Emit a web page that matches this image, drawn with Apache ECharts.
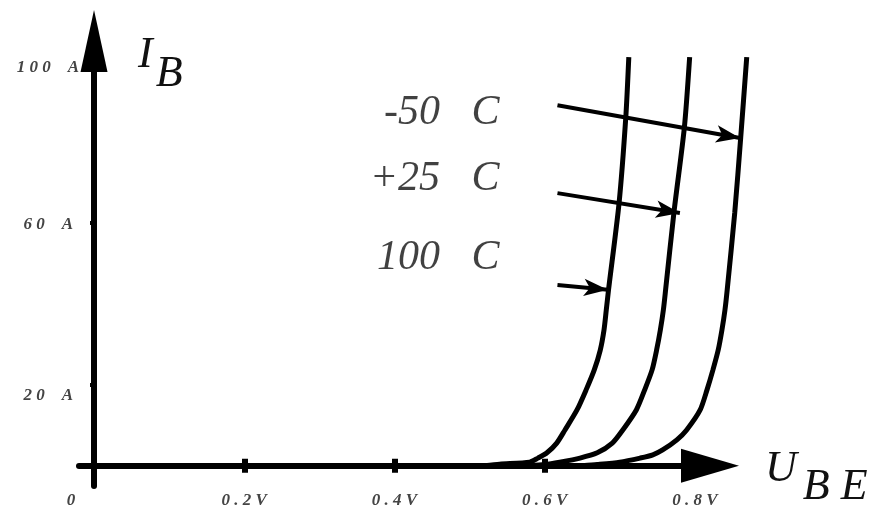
<!DOCTYPE html>
<html><head><meta charset="utf-8">
<script src="https://cdn.jsdelivr.net/npm/echarts@6/dist/echarts.min.js"></script>
<style>html,body{margin:0;padding:0;background:#fff}#c{width:871px;height:507px}</style>
</head><body><div id="c"></div>
<script>
// ---- data ----
const xTickValues = [0, 0.2, 0.4, 0.6, 0.8];
const xTickLabels = ['0', '0 . 2 V', '0 . 4 V', '0 . 6 V', '0 . 8 V'];
const yTickValues = [20, 60, 100];
const yTickLabels = ['2 0    A', '6 0    A', '1 0 0    A'];

// I_B (µA) versus U_BE (V)
const curve100C = [[0.52,0],[0.54,0.4],[0.580,0.9],[0.591,1.9],[0.603,3.2],[0.616,5.6],[0.627,8.85],[0.643,13.8],[0.655,18.7],[0.666,23.7],[0.674,28.6],[0.679,33.6],[0.682,38.5],[0.685,43.5],[0.699,64.9],[0.708,86.2],[0.712,101]];
const curve25C  = [[0.58,0],[0.60,0.3],[0.620,0.9],[0.647,1.9],[0.670,3.2],[0.690,5.6],[0.704,8.85],[0.722,13.8],[0.733,18.7],[0.743,23.7],[0.749,28.6],[0.754,33.6],[0.758,38.5],[0.761,43.5],[0.772,62.5],[0.786,83.7],[0.793,101]];
const curveM50C = [[0.65,0],[0.67,0.3],[0.700,0.9],[0.727,1.9],[0.744,2.7],[0.757,3.9],[0.776,6.4],[0.789,8.85],[0.807,13.8],[0.816,18.7],[0.824,23.7],[0.831,28.6],[0.836,33.6],[0.840,38.5],[0.843,43.5],[0.853,62.5],[0.861,81.2],[0.869,101]];

const tempLabels = ['-50   C', '+25   C', '100   C'];
const tempLabelAnchors = [[0.540, 87.2], [0.540, 70.9], [0.540, 51.4]];
const arrowStarts = [[0.617, 89.1], [0.617, 67.4], [0.617, 44.7]];
const arrowEnds   = [[0.860, 81.0], [0.780, 62.5], [0.684, 43.5]];

const yTitle = ['I', 'B'];
const xTitle = ['U', 'B E'];

// ---- chart ----
const serif = '"Liberation Serif", "DejaVu Serif", serif';
const tickFont = {fontFamily: serif, fontStyle: 'italic', fontWeight: 'bold', fontSize: 17, color: '#444'};
const bigFont = {fontFamily: serif, fontStyle: 'italic', fontSize: 44, color: '#111'};

const chart = echarts.init(document.getElementById('c'), null, {renderer: 'canvas'});
const curveStyle = {color: '#000', width: 5};

// visible axes: x from -0.02 to 0.82 V; hidden plotting frame: same scale, x to 0.88 V
const pxPerVolt = 631 / 0.84;

function curveSeries(name, data) {
  return {
    name, type: 'line', data, xAxisIndex: 2, yAxisIndex: 1,
    symbol: 'none', showSymbol: false, smooth: 0.25, clip: false,
    lineStyle: curveStyle, z: 3
  };
}

chart.setOption({
  animation: false,
  backgroundColor: '#fff',
  grid: [
    {left: 79, top: 41, width: 631, height: 445, outerBoundsMode: 'none', containLabel: false},
    {left: 79, top: 41, width: Math.round(pxPerVolt * 0.90), height: 445, outerBoundsMode: 'none', containLabel: false}
  ],
  xAxis: [{
    gridIndex: 0, type: 'value', min: -0.02, max: 0.82,
    splitLine: {show: false},
    name: '{a|' + xTitle[0] + '}{b|' + xTitle[1] + '}',
    nameLocation: 'end', nameGap: 55,
    nameTextStyle: {
      align: 'left', verticalAlign: 'middle', padding: [26, 0, 0, 0],
      rich: {
        a: Object.assign({verticalAlign: 'top'}, bigFont),
        b: Object.assign({verticalAlign: 'top', padding: [18, 0, 0, 6]}, bigFont)
      }
    },
    axisLine: {onZero: true, lineStyle: {color: '#000', width: 6}, symbol: ['none', 'triangle'], symbolSize: [34, 58]},
    axisTick: {show: true, customValues: xTickValues.slice(1), length: 7, lineStyle: {color: '#000', width: 6}},
    axisLabel: {
      customValues: xTickValues, margin: 6,
      formatter: function (v) {
        const i = xTickValues.findIndex(t => Math.abs(t - v) < 1e-9);
        if (i < 0) return '';
        return i === 0 ? '{z|' + xTickLabels[i] + '}' : '{n|' + xTickLabels[i] + '}';
      },
      rich: {
        z: Object.assign({padding: [0, 46, 0, 0]}, tickFont),
        n: Object.assign({}, tickFont)
      }
    }
  }, {
    gridIndex: 0, type: 'value', min: -0.02, max: 0.82, position: 'bottom',
    splitLine: {show: false},
    axisLine: {show: false, onZero: true, onZeroAxisIndex: 0},
    axisTick: {show: true, inside: true, customValues: xTickValues.slice(1), length: 7, lineStyle: {color: '#000', width: 6}},
    axisLabel: {show: false}
  }, {
    gridIndex: 1, type: 'value', min: -0.02, max: 0.88, show: false
  }],
  yAxis: [{
    gridIndex: 0, type: 'value', min: -5, max: 105,
    splitLine: {show: false},
    name: '{a|' + yTitle[0] + '}{b|' + yTitle[1] + '}',
    nameLocation: 'end', nameGap: 8,
    nameTextStyle: {
      align: 'left', verticalAlign: 'top', padding: [0, 0, 0, 44],
      rich: {
        a: Object.assign({verticalAlign: 'top'}, bigFont),
        b: Object.assign({verticalAlign: 'top', padding: [19, 0, 0, 3]}, bigFont)
      }
    },
    axisLine: {onZero: true, lineStyle: {color: '#000', width: 6}, symbol: ['none', 'triangle'], symbolSize: [27, 62]},
    axisTick: {show: true, customValues: yTickValues, length: 4, lineStyle: {color: '#000', width: 4}},
    axisLabel: {
      customValues: yTickValues, margin: 0,
      formatter: function (v) {
        const i = yTickValues.indexOf(v);
        if (i < 0) return '';
        return '{r' + i + '|' + yTickLabels[i] + '}';
      },
      rich: {
        r0: Object.assign({padding: [22, 6, 0, 0]}, tickFont),
        r1: Object.assign({padding: [4, 6, 0, 0]}, tickFont),
        r2: Object.assign({padding: [12, 0, 0, 0]}, tickFont)
      }
    }
  }, {
    gridIndex: 1, type: 'value', min: -5, max: 105, show: false
  }],
  series: [
    curveSeries('100 C', curve100C),
    curveSeries('+25 C', curve25C),
    curveSeries('-50 C', curveM50C),
    {
      type: 'scatter', name: 'labels', xAxisIndex: 2, yAxisIndex: 1,
      symbolSize: 0, silent: true, clip: false,
      data: tempLabelAnchors.map((p, i) => ({name: tempLabels[i], value: p})),
      label: {
        show: true, position: 'left', distance: 0,
        formatter: p => p.name,
        align: 'right', verticalAlign: 'middle',
        fontFamily: serif, fontStyle: 'italic', fontSize: 42, color: '#111'
      }
    },
    {
      type: 'lines', name: 'arrows', coordinateSystem: 'cartesian2d', xAxisIndex: 2, yAxisIndex: 1,
      clip: false, silent: true, polyline: false,
      symbol: ['none', 'arrow'], symbolSize: [[13, 24], [13, 24]],
      lineStyle: {color: '#000', width: 4, opacity: 1, curveness: 0},
      data: arrowStarts.map((s, i) => ({coords: [s, arrowEnds[i]]})),
      z: 4
    }
  ]
});
</script>
</body></html>
